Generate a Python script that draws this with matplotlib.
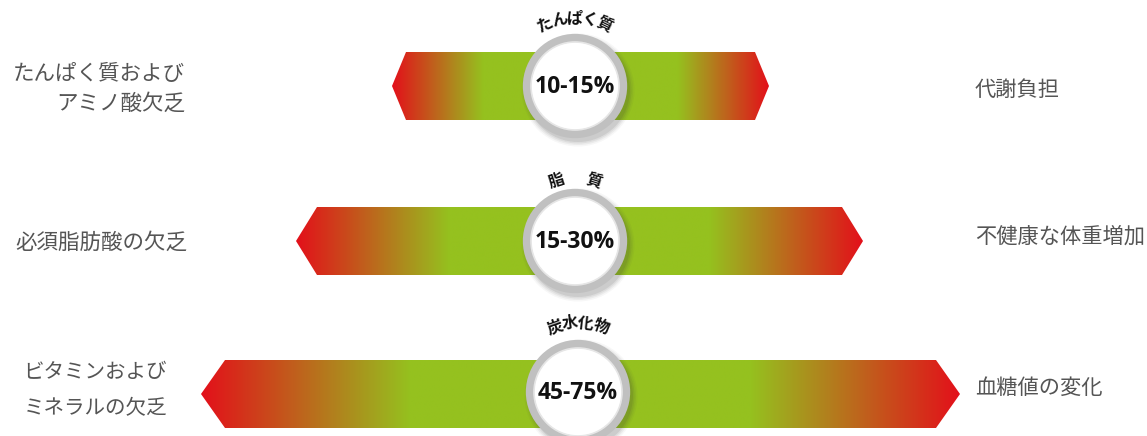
import matplotlib.pyplot as plt
import numpy as np
from matplotlib.patches import Circle, Polygon

plt.rcParams["font.family"] = ["Noto Sans CJK JP", "DejaVu Sans"]

# data
nutrients = ["たんぱく質", "脂　質", "炭水化物"]
ranges = ["10-15%", "15-30%", "45-75%"]
low_labels = ["たんぱく質および\nアミノ酸欠乏", "必須脂肪酸の欠乏", "ビタミンおよび\nミネラルの欠乏"]
high_labels = ["代謝負担", "不健康な体重増加", "血糖値の変化"]

# layout (pixels)
W, H = 1147, 436
bar_left = [392, 296, 201]
bar_right = [769, 863, 960]
bar_tip = [14, 21, 24]
bar_cy = [86, 241, 394]
bar_h = 68
grad_len = [91, 153, 209]
circle_cx = [575, 575, 578]
circle_cy = [86, 241, 392]
circle_r = 52
label_r = [68, 63, 69]
label_step = [13.0, 17.5, 13.0]
low_x = [185, 187, 167]
low_cy = [89, 243, 390]
low_size = [15.5, 15.5, 14.8]
low_spacing = [1.45, 1.0, 1.8]
high_cy = [90, 237, 388]

RED = np.array([227, 16, 26]) / 255
GREEN = np.array([149, 193, 31]) / 255

fig = plt.figure(figsize=(W / 100, H / 100), dpi=100)
ax = fig.add_axes([0, 0, 1, 1])
ax.set_xlim(0, W)
ax.set_ylim(H, 0)
ax.axis("off")

for i in range(3):
    xl, xr, cy, tip = bar_left[i], bar_right[i], bar_cy[i], bar_tip[i]
    top, bot = cy - bar_h / 2, cy + bar_h / 2
    hexagon = Polygon(
        [(xl, cy), (xl + tip, top), (xr - tip, top), (xr, cy), (xr - tip, bot), (xl + tip, bot)],
        closed=True, facecolor="none", edgecolor="none",
    )
    ax.add_patch(hexagon)

    xs = np.linspace(xl, xr, 600)
    t = np.clip(np.minimum(xs - xl, xr - xs) / grad_len[i], 0, 1)
    cols = RED[None, :] * (1 - t[:, None]) + GREEN[None, :] * t[:, None]
    img = ax.imshow(cols[None, :, :], extent=[xl, xr, bot, top], aspect="auto",
                    interpolation="bilinear", zorder=1)
    img.set_clip_path(hexagon)

    # circle with soft shadow
    cx, ccy = circle_cx[i], circle_cy[i]
    for k, a in enumerate([0.10, 0.08, 0.06, 0.04]):
        ax.add_patch(Circle((cx + 3, ccy + 4), circle_r + k * 1.5, facecolor="#3a3a3a",
                            edgecolor="none", alpha=a, zorder=2))
    ax.add_patch(Circle((cx, ccy), circle_r - 4, facecolor="white",
                        edgecolor="#c0c0c0", linewidth=6, zorder=3))
    ax.add_patch(Circle((cx, ccy), circle_r - 8, facecolor="none",
                        edgecolor="#e6e6e6", linewidth=1.2, zorder=3))
    ax.text(cx, ccy + 1, ranges[i], ha="center", va="center", fontsize=16.5,
            fontweight="bold", family=["Open Sans", "DejaVu Sans"], color="#111111", zorder=4)

    # curved nutrient name above the circle
    chars = list(nutrients[i])
    n = len(chars)
    for j, ch in enumerate(chars):
        theta = np.radians((j - (n - 1) / 2) * label_step[i])
        x = cx + label_r[i] * np.sin(theta)
        y = ccy - label_r[i] * np.cos(theta)
        ax.text(x, y, ch, ha="center", va="center", rotation=-np.degrees(theta),
                rotation_mode="anchor", fontsize=11.5, fontweight="bold", color="#111111", zorder=4)

    # side labels
    ax.text(low_x[i], low_cy[i], low_labels[i], ha="right", va="center", fontsize=low_size[i],
            color="#555555", linespacing=low_spacing[i])
    ax.text(975, high_cy[i], high_labels[i], ha="left", va="center", fontsize=15.3,
            color="#555555")

fig.savefig("out.png", dpi=100)
